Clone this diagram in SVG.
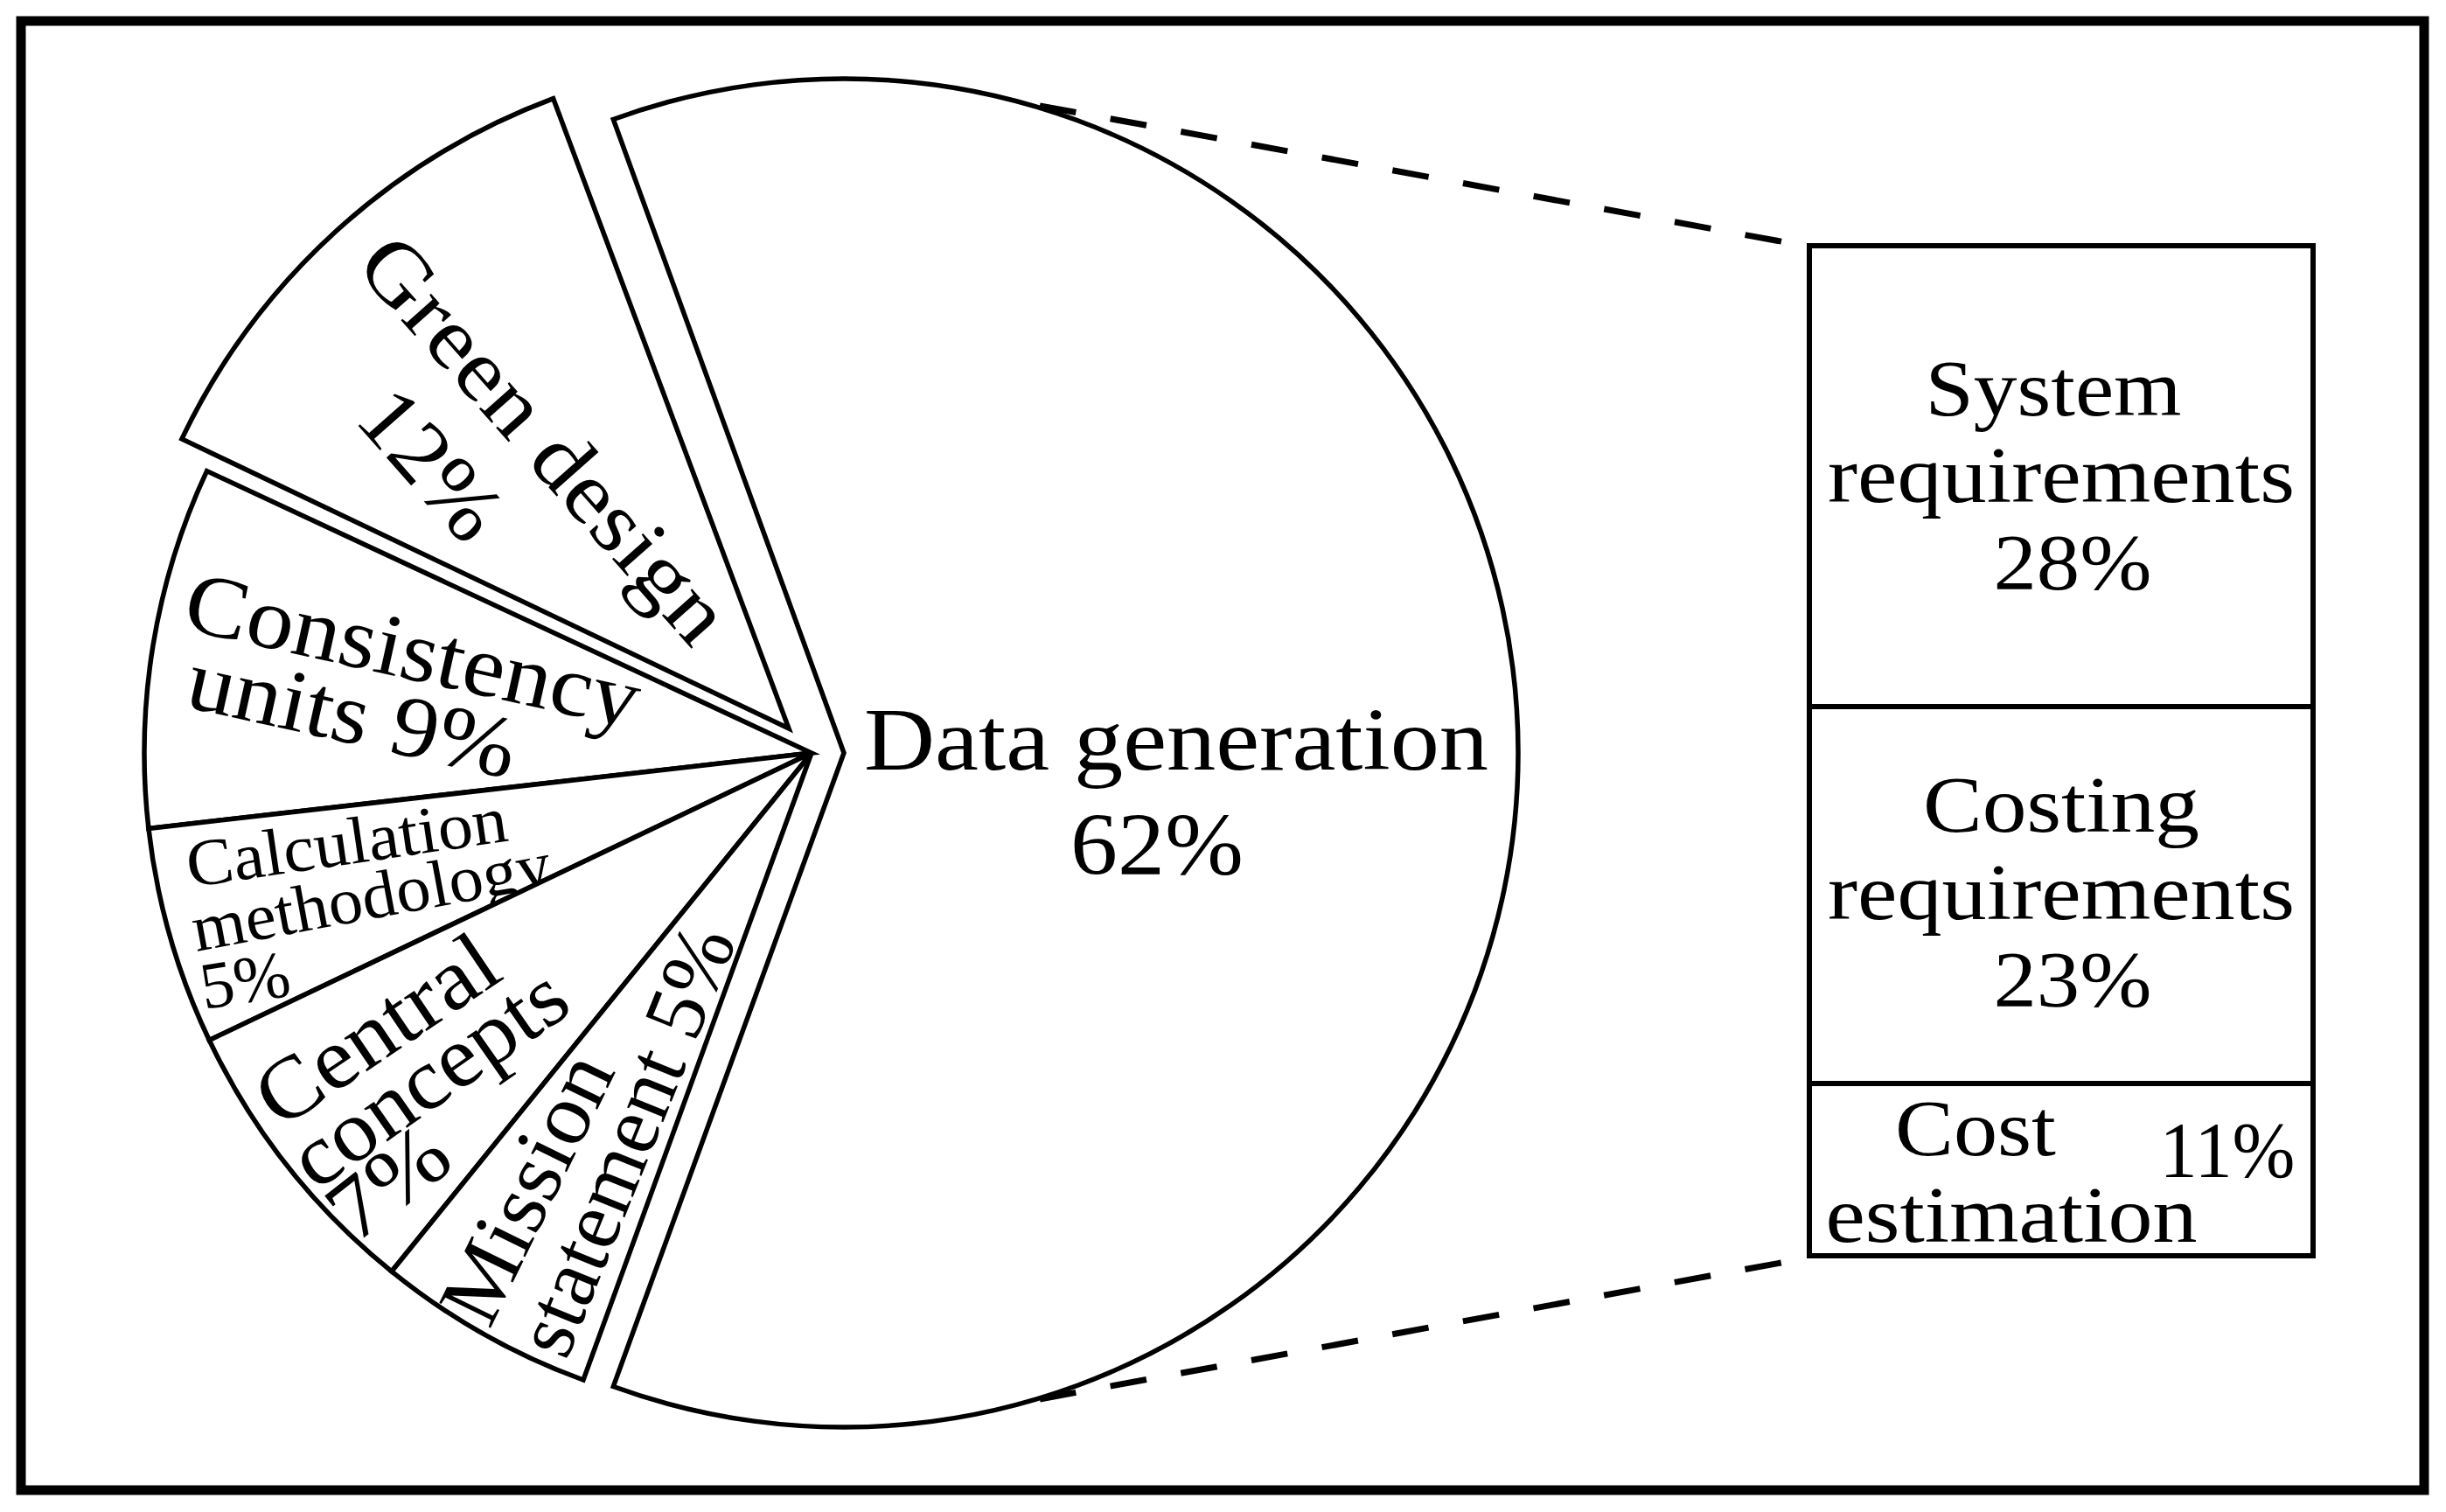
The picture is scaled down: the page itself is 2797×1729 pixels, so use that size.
<svg xmlns="http://www.w3.org/2000/svg" width="2797" height="1729" viewBox="0 0 2797 1729">
<style>
.frame{fill:none;stroke:#000;stroke-width:11}
.slice{fill:#fff;stroke:#000;stroke-width:5.5;stroke-linejoin:miter}
.box{fill:#fff;stroke:#000;stroke-width:6}
.dash{fill:none;stroke:#000;stroke-width:7;stroke-dasharray:42 40}
.t{font-family:"Liberation Serif","Times New Roman",serif;fill:#000;text-anchor:middle}
.big{font-size:101px}
.lab{font-size:100px}
.sm{font-size:76px}
.bx{font-size:91px}
</style>
<rect width="2797" height="1729" fill="#fff"/>
<rect class="frame" x="24" y="24" width="2748" height="1680"/>

<g id="connectors">
<path class="dash" d="M1189 121 L2069 282"/>
<path class="dash" d="M1189 1600 L2069 1438"/>
</g>

<g id="data-generation">
<path class="slice" d="M965 861 L701.3 136.5 A771 771 0 1 1 701.3 1585.5 Z"/>
<text class="t big" x="1345" y="880" textLength="714" lengthAdjust="spacingAndGlyphs">Data generation</text>
<text class="t big" x="1323" y="1000" textLength="198" lengthAdjust="spacingAndGlyphs">62%</text>
</g>

<g id="green-design">
<path class="slice" d="M902 833 L207.9 501.9 A769 769 0 0 1 632.7 112.7 Z"/>
<text class="t lab" transform="translate(598,524) rotate(48.5)" textLength="585" lengthAdjust="spacingAndGlyphs">Green design</text>
<text class="t lab" transform="translate(468,553) rotate(48.5)" textLength="195" lengthAdjust="spacingAndGlyphs">12%</text>
</g>

<g id="consistency-units">
<path class="slice" d="M928 861 L169.9 947.4 A763 763 0 0 1 236.5 538.6 Z"/>
<text class="t lab" transform="translate(465,776) rotate(12.5)" textLength="530" lengthAdjust="spacingAndGlyphs">Consistency</text>
<text class="t lab" transform="translate(396,849) rotate(12.5)" textLength="382" lengthAdjust="spacingAndGlyphs">units 9%</text>
</g>

<g id="calculation-methodology">
<path class="slice" d="M928 861 L239.3 1189.5 A763 763 0 0 1 169.9 947.4 Z"/>
<text class="t sm" transform="translate(400,988) rotate(-8.3)" textLength="370" lengthAdjust="spacingAndGlyphs">Calculation</text>
<text class="t sm" transform="translate(429,1050) rotate(-10.5)" textLength="416" lengthAdjust="spacingAndGlyphs">methodology</text>
<text class="t sm" transform="translate(284,1146) rotate(-9)" textLength="103" lengthAdjust="spacingAndGlyphs">5%</text>
</g>

<g id="central-concepts">
<path class="slice" d="M928 861 L447.8 1453.9 A763 763 0 0 1 239.3 1189.5 Z"/>
<text class="t lab" transform="translate(449,1205) rotate(-34)" textLength="312" lengthAdjust="spacingAndGlyphs">Central</text>
<text class="t lab" transform="translate(509,1259) rotate(-35)" textLength="362" lengthAdjust="spacingAndGlyphs">concepts</text>
<text class="t lab" transform="translate(464,1378) rotate(-38)" textLength="148" lengthAdjust="spacingAndGlyphs">7%</text>
</g>

<g id="mission-statement">
<path class="slice" d="M928 861 L667 1578 A763 763 0 0 1 447.8 1453.9 Z"/>
<text class="t lab" transform="translate(632,1373) rotate(-64)" textLength="330" lengthAdjust="spacingAndGlyphs">Mission</text>
<text class="t lab" style="font-size:97px" transform="translate(745,1316) rotate(-68)" textLength="520" lengthAdjust="spacingAndGlyphs">statement 5%</text>
</g>

<g id="system-requirements">
<rect class="box" x="2069" y="281" width="576" height="527"/>
<text class="t bx" x="2348" y="475" textLength="293" lengthAdjust="spacingAndGlyphs">System</text>
<text class="t bx" x="2357" y="574" textLength="534" lengthAdjust="spacingAndGlyphs">requirements</text>
<text class="t bx" x="2370" y="674" textLength="181" lengthAdjust="spacingAndGlyphs">28%</text>
</g>

<g id="costing-requirements">
<rect class="box" x="2069" y="808" width="576" height="431"/>
<text class="t bx" x="2357" y="951" textLength="316" lengthAdjust="spacingAndGlyphs">Costing</text>
<text class="t bx" x="2357" y="1051" textLength="534" lengthAdjust="spacingAndGlyphs">requirements</text>
<text class="t bx" x="2370" y="1151" textLength="181" lengthAdjust="spacingAndGlyphs">23%</text>
</g>

<g id="cost-estimation">
<rect class="box" x="2069" y="1239" width="576" height="197"/>
<text class="t bx" x="2259" y="1321" textLength="184" lengthAdjust="spacingAndGlyphs">Cost</text>
<text class="t bx" x="2547" y="1346" textLength="155" lengthAdjust="spacingAndGlyphs">11%</text>
<text class="t bx" x="2300" y="1420" textLength="425" lengthAdjust="spacingAndGlyphs">estimation</text>
</g>
</svg>
